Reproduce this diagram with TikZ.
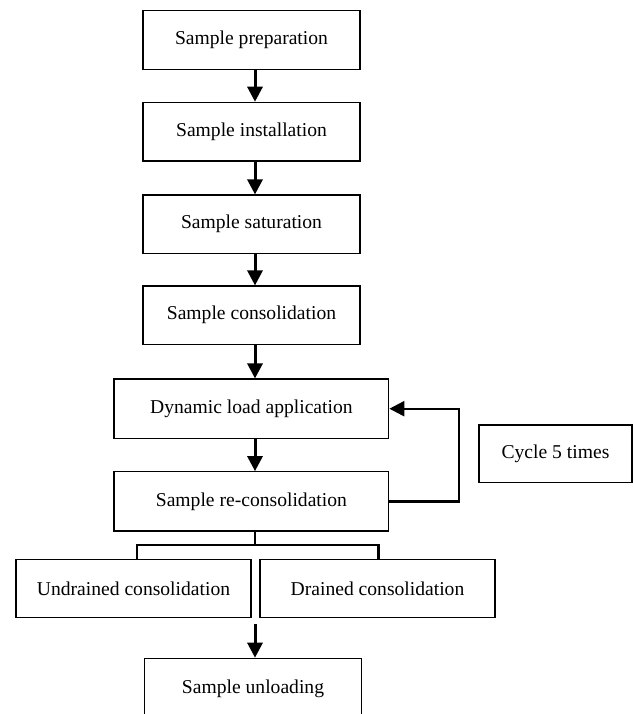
\documentclass[tikz,border=0pt]{standalone}
\usepackage{fontspec}
\setmainfont{Liberation Serif}
\usetikzlibrary{arrows.meta}
\begin{document}
\begin{tikzpicture}[x=1pt,y=-1pt,
  box/.style={draw, line width=1.2pt, inner sep=0pt, font=\fontsize{19.6}{23}\selectfont},
  arr/.style={line width=3pt, -{Triangle[width=15pt,length=15pt]}},
  link/.style={line width=2.4pt}]
\useasboundingbox (0,0) rectangle (633,714);
\clip (0,0) rectangle (633,714);
\node[box, minimum width=217pt, minimum height=58.6pt] (b1) at (251.5,40) {Sample preparation};
\node[box, minimum width=217pt, minimum height=58.7pt] (b2) at (251.5,131.7) {Sample installation};
\node[box, minimum width=217pt, minimum height=58.3pt] (b3) at (251.5,224.2) {Sample saturation};
\node[box, minimum width=217pt, minimum height=58.3pt] (b4) at (251.5,315.2) {Sample consolidation};
\node[box, minimum width=274.7pt, minimum height=59.3pt] (b5) at (251.4,408.7) {Dynamic load application};
\node[box, minimum width=274.7pt, minimum height=59.3pt] (b6) at (251.4,501.4) {Sample re-consolidation};
\node[box, minimum width=235pt, minimum height=58pt] (b7) at (133.5,588.3) {Undrained consolidation};
\node[box, minimum width=235pt, minimum height=58pt] (b8) at (377.5,588.3) {Drained consolidation};
\node[box, minimum width=217.4pt, minimum height=61.4pt] (b9) at (253,689) {Sample unloading};
\node[box, minimum width=153pt, minimum height=57.7pt] (b10) at (555.5,453.9) {Cycle 5 times};
\coordinate (ax) at (255,0);
\draw[arr] (b1.south -| ax) -- (b2.north -| ax);
\draw[arr] (b2.south -| ax) -- (b3.north -| ax);
\draw[arr] (b3.south -| ax) -- (b4.north -| ax);
\draw[arr] (b4.south -| ax) -- (b5.north -| ax);
\draw[arr] (b5.south -| ax) -- (b6.north -| ax);
\coordinate (lp) at (459,0);
\draw[line width=2.4pt, -{Triangle[width=15pt,length=15pt]}] (b6.east) -- (b6.east -| lp) -- (b5.east -| lp) -- (b5.east);
\coordinate (br) at (255,545);
\coordinate (bl) at (136.7,545);
\coordinate (bR) at (378.3,545);
\draw[link] (b6.south -| ax) -- (br);
\draw[link, line cap=rect] (bl |- b7.north) -- (bl) -- (bR) -- (bR |- b8.north);
\coordinate (u0) at (255,624);
\draw[arr] (u0) -- (b9.north -| u0);
\end{tikzpicture}
\end{document}
